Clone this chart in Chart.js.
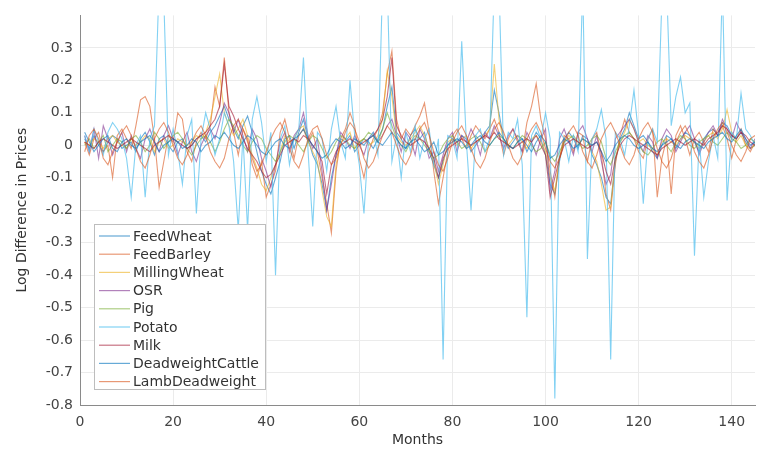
<!DOCTYPE html>
<html>
<head>
<meta charset="utf-8">
<script src="https://cdn.jsdelivr.net/npm/chart.js@4.4.1/dist/chart.umd.min.js"></script>
<style>
  html, body { margin: 0; padding: 0; background: #fff; }
  #wrap { width: 763px; height: 454px; }
</style>
</head>
<body>
<div id="wrap"><canvas id="myChart" width="763" height="454"></canvas></div>
<script>
'use strict';

// months 1..145
let months = [];
for (let i = 1; i <= 145; i++) {
  months.push(i);
}

let seriesNames = ['FeedWheat', 'FeedBarley', 'MillingWheat', 'OSR', 'Pig', 'Potato', 'Milk', 'DeadweightCattle', 'LambDeadweight'];

let xTicks = [0, 20, 40, 60, 80, 100, 120, 140];
let yTicks = [-0.8, -0.7, -0.6, -0.5, -0.4, -0.3, -0.2, -0.1, 0, 0.1, 0.2, 0.3];

let feedWheat = [
  0.02, -0.01, 0.03, 0.0, -0.02, 0.01, 0.03, 0.02, -0.01, 0.0,
  0.01, -0.02, 0.02, 0.04, 0.01, -0.03, 0.02, 0.03, 0.0, -0.02,
  0.01, 0.02, -0.01, 0.0, 0.02, 0.03, 0.01, 0.04, 0.06, 0.09,
  0.12, 0.08, 0.05, 0.02, 0.06, 0.09, 0.04, -0.02, -0.08, -0.12,
  -0.15, -0.1, -0.05, 0.02, 0.03, -0.01, 0.04, 0.08, 0.02, -0.03,
  -0.06, -0.12, -0.2, -0.1, -0.03, 0.02, 0.01, 0.03, -0.02, 0.0,
  0.02, 0.01, -0.01, 0.02, 0.05, 0.12, 0.18, 0.04, 0.02, -0.01,
  0.03, 0.05, 0.02, 0.04, -0.02, -0.06, -0.1, -0.05, 0.0, 0.02,
  0.01, 0.03, 0.02, -0.02, 0.0, 0.02, 0.04, 0.06, 0.17, 0.1,
  0.02, -0.01, 0.01, 0.03, 0.02, -0.02, 0.01, 0.04, 0.02, -0.03,
  -0.12, -0.15, -0.05, 0.02, 0.04, 0.02, -0.01, 0.03, 0.02, -0.03,
  -0.06, -0.1, -0.16, -0.18, -0.05, 0.02, 0.05, 0.1, 0.06, 0.02,
  0.03, 0.01, -0.02, -0.04, 0.0, 0.03, 0.02, -0.01, 0.02, 0.04,
  0.03, 0.01, -0.02, 0.02, 0.04, 0.05, 0.03, 0.07, 0.06, 0.03,
  0.02, 0.04, 0.01, -0.01, 0.0
];

let feedBarley = [
  0.01, -0.03, 0.02, 0.04, -0.02, 0.0, -0.1, 0.03, 0.05, 0.02,
  -0.01, 0.06, 0.14, 0.15, 0.12, 0.02, -0.13, -0.05, 0.03, 0.01,
  0.1, 0.08, -0.02, -0.05, 0.01, 0.04, 0.02, 0.06, 0.18, 0.12,
  0.27, 0.1, 0.04, -0.03, 0.05, 0.02, -0.06, -0.1, -0.05, -0.16,
  -0.12, -0.08, 0.04, 0.08, 0.02, -0.04, 0.03, 0.05, 0.01, 0.04,
  -0.02, -0.1, -0.18, -0.27, -0.08, 0.02, 0.05, 0.1, 0.06, -0.04,
  -0.1, -0.02, 0.02, 0.05, 0.1, 0.22, 0.29, 0.08, 0.02, 0.05,
  0.03, 0.06, 0.09, 0.13, 0.04, -0.08, -0.18, -0.1, -0.02, 0.03,
  0.05, 0.02, -0.01, 0.03, 0.06, 0.04, 0.02, 0.05, 0.08, 0.04,
  -0.03, 0.02, 0.05, 0.01, -0.02, 0.07, 0.12, 0.19, 0.08, 0.02,
  -0.08, -0.16, -0.04, 0.03, 0.02, -0.02, 0.04, 0.03, -0.05, 0.02,
  0.04, -0.03, -0.15, -0.2, -0.06, 0.03, 0.08, 0.04, 0.02, -0.02,
  -0.04, 0.02, 0.05, -0.16, -0.04, 0.02, -0.15, 0.03, 0.06, 0.02,
  -0.03, 0.02, 0.04, 0.01, -0.02, 0.05, 0.03, 0.06, 0.02, -0.04,
  0.02, 0.05, 0.0, -0.02, 0.01
];

let millingWheat = [
  0.01, 0.0, 0.02, 0.01, -0.01, 0.02, 0.03, 0.01, 0.0, -0.01,
  0.02, 0.0, 0.01, 0.03, 0.02, -0.02, 0.01, 0.02, -0.01, 0.0,
  0.02, 0.01, 0.0, 0.01, 0.03, 0.02, 0.04, 0.08, 0.15, 0.22,
  0.1, 0.06, 0.03, 0.05, 0.08, 0.03, -0.03, -0.07, -0.12, -0.14,
  -0.1, -0.06, -0.02, 0.03, 0.01, 0.02, 0.05, 0.06, 0.01, -0.02,
  -0.05, -0.14, -0.22, -0.25, -0.06, 0.01, 0.02, 0.04, -0.01, 0.01,
  0.02, 0.0, 0.01, 0.03, 0.08, 0.23, 0.15, 0.03, 0.01, 0.0,
  0.02, 0.04, 0.06, 0.03, -0.01, -0.05, -0.12, -0.06, 0.01, 0.02,
  0.0, 0.02, 0.03, -0.01, 0.01, 0.02, 0.03, 0.05, 0.25, 0.08,
  0.01, 0.0, 0.02, 0.03, 0.01, -0.01, 0.02, 0.03, 0.01, -0.02,
  -0.1, -0.14, -0.04, 0.01, 0.03, 0.02, 0.0, 0.02, 0.01, -0.02,
  -0.05, -0.12, -0.2, -0.19, -0.04, 0.01, 0.04, 0.08, 0.05, 0.01,
  0.02, 0.0, -0.01, -0.03, 0.01, 0.02, 0.01, 0.0, 0.02, 0.03,
  0.02, 0.01, -0.01, 0.01, 0.03, 0.04, 0.02, 0.05, 0.11, 0.04,
  0.01, 0.03, 0.0, -0.01, 0.0
];

let osr = [
  0.03, -0.02, 0.05, -0.04, 0.06, 0.02, -0.03, 0.01, 0.04, -0.02,
  0.03, -0.01, -0.04, 0.02, 0.05, 0.01, -0.02, 0.03, 0.06, 0.02,
  -0.03, 0.01, 0.04, -0.02, -0.05, 0.0, 0.03, 0.05, 0.02, 0.07,
  0.13, 0.1, 0.04, 0.08, 0.03, -0.02, 0.05, 0.02, -0.04, -0.08,
  -0.13, -0.06, 0.01, 0.04, -0.02, 0.03, 0.05, 0.1, 0.03, -0.01,
  0.02, -0.08, -0.2, -0.12, -0.03, 0.04, 0.02, -0.01, 0.03, 0.0,
  -0.03, 0.02, 0.04, 0.01, 0.03, 0.06, 0.08, 0.03, -0.02, 0.04,
  0.02, -0.03, 0.05, 0.02, -0.04, -0.02, -0.08, -0.03, 0.02, 0.04,
  -0.02, 0.03, 0.01, 0.05, 0.02, -0.03, 0.04, 0.02, 0.06, 0.03,
  -0.01, 0.03, 0.05, 0.02, -0.02, 0.04, 0.01, -0.03, 0.02, 0.05,
  -0.14, -0.08, 0.02, 0.05, 0.01, -0.03, 0.04, 0.06, 0.02, -0.02,
  0.03, -0.05, -0.12, -0.09, 0.02, 0.04, 0.06, 0.08, 0.05, 0.01,
  -0.02, 0.03, 0.01, -0.04, 0.02, 0.05, 0.03, -0.02, 0.01, 0.04,
  0.06, 0.02, -0.03, 0.01, 0.04, 0.06, 0.03, 0.08, 0.05, 0.02,
  0.07, 0.04, 0.02, -0.01, 0.02
];

let pig = [
  0.0, 0.02, -0.01, 0.01, 0.03, -0.02, 0.0, 0.02, 0.01, -0.01,
  0.02, 0.03, 0.01, -0.02, 0.0, 0.04, 0.02, -0.01, 0.01, 0.03,
  0.04, 0.02, -0.01, -0.03, 0.0, 0.02, 0.03, 0.01, -0.02, 0.01,
  0.05, 0.08, 0.06, 0.03, 0.0, -0.02, 0.01, 0.03, 0.02, -0.01,
  -0.03, -0.05, -0.02, 0.01, 0.03, 0.02, 0.0, -0.02, 0.01, 0.03,
  0.02, -0.01, -0.04, -0.02, 0.01, 0.03, 0.02, 0.0, -0.01, 0.01,
  0.02, 0.04, 0.03, 0.01, 0.05, 0.1, 0.06, 0.02, 0.0, -0.02,
  0.01, 0.03, 0.02, 0.0, -0.02, -0.04, -0.03, 0.0, 0.02, 0.03,
  0.01, -0.01, 0.0, 0.02, 0.03, 0.01, -0.02, 0.0, 0.02, 0.03,
  0.02, 0.0, -0.01, 0.01, 0.03, 0.02, 0.0, -0.02, -0.01, 0.01,
  -0.03, -0.05, -0.02, 0.01, 0.02, 0.03, 0.01, -0.01, 0.0, 0.02,
  0.03, 0.01, -0.04, -0.06, -0.02, 0.01, 0.03, 0.04, 0.02, 0.0,
  -0.02, -0.03, -0.01, 0.01, 0.02, 0.0, -0.02, 0.01, 0.03, 0.02,
  0.0, -0.01, 0.01, 0.02, 0.03, 0.01, 0.0, 0.02, 0.04, 0.02,
  0.01, -0.01, 0.0, 0.02, 0.01
];

let potato = [
  0.03, -0.02, 0.05, 0.01, -0.03, 0.04, 0.07, 0.05, 0.02, -0.04,
  -0.16, 0.0, 0.03, -0.16, 0.02, 0.06, 0.5, 0.45, -0.03, 0.05,
  -0.02, -0.12, 0.03, 0.08, -0.21, 0.02, 0.1, 0.05, -0.03, 0.02,
  0.1, 0.06, -0.05, -0.26, 0.03, -0.26, 0.08, 0.15, 0.07, -0.05,
  0.04, -0.4, 0.02, 0.06, -0.06, 0.02, 0.05, 0.27, -0.02, -0.25,
  0.04, 0.02, -0.08, 0.05, 0.12, 0.01, -0.04, 0.2, 0.03, -0.06,
  -0.21, 0.02, 0.04, -0.03, 0.5, 0.5, -0.05, 0.03, -0.1, 0.04,
  -0.02, 0.06, -0.04, 0.02, 0.05, -0.06, 0.02, -0.66, 0.03, 0.02,
  -0.04, 0.32, 0.01, -0.2, 0.03, 0.05, -0.02, 0.02, 0.5, 0.5,
  -0.03, 0.04, 0.02, 0.08, -0.06, -0.53, 0.03, 0.06, 0.02, 0.1,
  0.02, -0.78, 0.04, 0.02, -0.05, 0.03, -0.02, 0.5, -0.35, 0.02,
  0.05, 0.11, 0.02, -0.66, 0.04, 0.02, -0.03, 0.06, 0.17, 0.03,
  -0.18, 0.02, 0.05, 0.01, 0.45, 0.5, 0.06, 0.15, 0.21, 0.1,
  0.13, -0.34, 0.02, -0.16, -0.05, 0.03, -0.04, 0.5, -0.17, 0.04,
  0.02, 0.16, 0.05, 0.03, 0.0
];

let milk = [
  0.01, 0.0, -0.01, 0.01, 0.02, 0.01, 0.0, -0.01, 0.0, 0.01,
  0.02, 0.01, 0.0, -0.01, -0.02, 0.0, 0.01, 0.02, 0.03, 0.02,
  0.01, 0.0, -0.01, 0.0, 0.02, 0.03, 0.04, 0.06, 0.08, 0.12,
  0.25, 0.12, 0.09, 0.05, 0.02, -0.01, -0.03, -0.05, -0.08, -0.1,
  -0.09, -0.06, -0.03, 0.0, 0.01, 0.02, 0.01, 0.03, 0.02, 0.0,
  -0.02, -0.05, -0.15, -0.06, -0.02, 0.0, 0.01, 0.02, 0.01, 0.0,
  0.01, 0.02, 0.03, 0.05, 0.08, 0.15, 0.27, 0.06, 0.03, 0.01,
  0.0, 0.01, 0.02, 0.01, -0.01, -0.04, -0.1, -0.04, -0.01, 0.0,
  0.01, 0.02, 0.01, 0.0, 0.01, 0.02, 0.03, 0.02, 0.04, 0.02,
  0.01, 0.0, -0.01, 0.0, 0.01, 0.02, 0.01, 0.03, 0.0, -0.03,
  -0.16, -0.1, -0.04, 0.0, 0.01, 0.02, 0.01, 0.0, -0.01, 0.0,
  0.01, -0.02, -0.08, -0.12, -0.04, 0.0, 0.02, 0.03, 0.02, 0.01,
  0.0, -0.01, -0.02, -0.03, -0.01, 0.0, 0.01, 0.02, 0.01, 0.0,
  0.01, 0.02, 0.01, 0.0, 0.02, 0.03, 0.04, 0.06, 0.05, 0.03,
  0.02, 0.04, 0.03, 0.01, 0.0
];

let deadweightCattle = [
  0.04, 0.01, -0.02, 0.0, 0.02, 0.03, -0.01, -0.02, 0.01, 0.02,
  0.0, -0.01, 0.01, 0.02, 0.03, 0.01, -0.02, 0.0, 0.01, 0.02,
  0.01, -0.01, 0.0, 0.02, 0.01, -0.02, 0.0, 0.01, 0.03, 0.02,
  0.04, 0.02, 0.0, -0.01, 0.01, 0.03, 0.02, 0.0, -0.02, -0.03,
  -0.01, 0.01, 0.02, 0.0, -0.01, 0.02, 0.03, 0.05, 0.02, 0.0,
  -0.02, -0.04, -0.03, 0.0, 0.02, 0.01, -0.01, 0.0, 0.02, 0.01,
  0.0, 0.02, 0.03, 0.01, 0.0, 0.02, 0.04, 0.02, 0.0, -0.01,
  0.01, 0.02, 0.0, -0.02, -0.01, 0.01, -0.03, -0.02, 0.0, 0.01,
  0.02, 0.01, -0.01, 0.0, 0.02, 0.03, 0.01, 0.0, 0.02, 0.04,
  0.02, 0.0, -0.01, 0.01, 0.02, 0.0, -0.02, 0.01, 0.03, 0.01,
  -0.04, -0.03, 0.0, 0.02, 0.01, -0.01, 0.0, 0.02, 0.01, 0.0,
  0.01, -0.02, -0.05, -0.03, 0.0, 0.02, 0.03, 0.02, 0.0, -0.01,
  0.0, 0.01, -0.01, -0.02, 0.0, 0.01, 0.02, 0.0, -0.01, 0.01,
  0.02, 0.01, 0.0, -0.01, 0.01, 0.02, 0.03, 0.04, 0.02, 0.01,
  0.03, 0.05, 0.02, 0.0, 0.01
];

let lambDeadweight = [
  -0.02, 0.03, 0.05, 0.02, -0.04, -0.06, -0.02, 0.01, 0.04, 0.06,
  0.03, -0.01, -0.05, -0.07, -0.03, 0.02, 0.05, 0.07, 0.04, 0.0,
  -0.04, -0.06, -0.03, 0.01, 0.04, 0.06, 0.03, -0.02, -0.05, -0.07,
  -0.04, 0.02, 0.06, 0.08, 0.05, 0.01, -0.04, -0.08, -0.06, -0.02,
  0.02, 0.05, 0.07, 0.04, -0.01, -0.05, -0.07, -0.03, 0.02, 0.05,
  0.06, 0.02, -0.03, -0.06, -0.04, 0.0, 0.04, 0.07, 0.05, 0.01,
  -0.04, -0.07, -0.05, -0.01, 0.03, 0.06, 0.04, 0.0, -0.04, -0.06,
  -0.03, 0.02, 0.05, 0.07, 0.03, -0.02, -0.06, -0.08, -0.04, 0.01,
  0.04, 0.06, 0.03, -0.01, -0.05, -0.07, -0.04, 0.01, 0.05, 0.07,
  0.04, 0.0, -0.04, -0.06, -0.03, 0.02, 0.05, 0.07, 0.04, -0.01,
  -0.05, -0.07, -0.04, 0.01, 0.04, 0.06, 0.03, -0.02, -0.05, -0.07,
  -0.03, 0.02, 0.05, 0.07, 0.04, 0.0, -0.04, -0.06, -0.03, 0.02,
  0.05, 0.07, 0.04, -0.01, -0.05, -0.07, -0.04, 0.01, 0.04, 0.06,
  0.03, -0.02, -0.05, -0.07, -0.03, 0.02, 0.05, 0.07, 0.04, 0.0,
  -0.03, -0.05, -0.02, 0.02, 0.03
];

// matlab default line colours, a bit faded like the picture
let lineColors = [
  'rgba(0, 114, 189, 0.6)',
  'rgba(217, 83, 25, 0.6)',
  'rgba(237, 177, 32, 0.6)',
  'rgba(126, 47, 142, 0.6)',
  'rgba(119, 172, 48, 0.6)',
  'rgba(77, 190, 238, 0.7)',
  'rgba(162, 20, 47, 0.6)',
  'rgba(0, 114, 189, 0.6)',
  'rgba(217, 83, 25, 0.6)'
];

let allSeries = [feedWheat, feedBarley, millingWheat, osr, pig, potato, milk, deadweightCattle, lambDeadweight];

const fontFamily = '"DejaVu Sans", "Liberation Sans", sans-serif';
const textColor = '#444';

function makeDatasets() {
  let datasets = [];
  for (let i = 0; i < allSeries.length; i++) {
    let points = [];
    for (let j = 0; j < months.length; j++) {
      points.push({ x: months[j], y: allSeries[i][j] });
    }
    datasets.push({
      label: seriesNames[i],
      data: points,
      borderColor: lineColors[i],
      backgroundColor: lineColors[i],
      borderWidth: 1.1,
      pointRadius: 0,
      tension: 0,
      // later series on top, like matlab
      order: allSeries.length - i
    });
  }
  return datasets;
}

// legend box inside the axes, lower left
const boxLegend = {
  id: 'boxLegend',
  afterDraw(chart) {
    let ctx = chart.ctx;
    let left = 94;
    let top = 224;
    let width = 171;
    let height = 165;
    ctx.save();
    ctx.fillStyle = '#fff';
    ctx.fillRect(left, top, width, height);
    ctx.strokeStyle = '#bdbdbd';
    ctx.lineWidth = 1;
    ctx.strokeRect(left + 0.5, top + 0.5, width, height);
    ctx.font = '14px ' + fontFamily;
    ctx.textBaseline = 'middle';
    for (let i = 0; i < seriesNames.length; i++) {
      let y = top + 12 + i * 18.2;
      ctx.strokeStyle = lineColors[i];
      ctx.lineWidth = 1.2;
      ctx.beginPath();
      ctx.moveTo(left + 5, y);
      ctx.lineTo(left + 36, y);
      ctx.stroke();
      ctx.fillStyle = '#333';
      ctx.fillText(seriesNames[i], left + 39, y + 1);
    }
    ctx.restore();
  }
};

const config = {
  type: 'line',
  data: { datasets: makeDatasets() },
  options: {
    responsive: false,
    animation: false,
    layout: { padding: { top: 10, right: 8, left: 14, bottom: 0 } },
    plugins: {
      legend: { display: false },
      tooltip: { enabled: false }
    },
    scales: {
      x: {
        type: 'linear',
        min: 0,
        max: 145,
        afterBuildTicks: (scale) => {
          scale.ticks = xTicks.map(v => ({ value: v }));
        },
        afterFit: (scale) => { scale.height = 49; },
        ticks: {
          color: textColor,
          font: { family: fontFamily, size: 14 },
          padding: 9,
          maxRotation: 0
        },
        grid: { color: '#ebebeb', tickLength: 0 },
        border: { color: '#8a8a8a', width: 1 },
        title: {
          display: true,
          text: 'Months',
          color: '#333',
          font: { family: fontFamily, size: 14 },
          padding: { top: 0, bottom: 5 }
        }
      },
      y: {
        type: 'linear',
        min: -0.8,
        max: 0.4,
        afterBuildTicks: (scale) => {
          scale.ticks = yTicks.map(v => ({ value: v }));
        },
        afterFit: (scale) => { scale.width = 66; },
        ticks: {
          color: textColor,
          font: { family: fontFamily, size: 14 },
          padding: 7,
          callback: (v) => (Math.round(v * 10) / 10).toString()
        },
        grid: { color: '#ebebeb', tickLength: 0 },
        border: { color: '#8a8a8a', width: 1 },
        title: {
          display: true,
          text: 'Log Difference in Prices',
          color: '#333',
          font: { family: fontFamily, size: 14 },
          padding: { top: 0, bottom: 4 }
        }
      }
    }
  },
  plugins: [boxLegend]
};

let chartCanvas = document.getElementById('myChart').getContext('2d');
const myChart = new Chart(chartCanvas, config);
</script>
</body>
</html>
